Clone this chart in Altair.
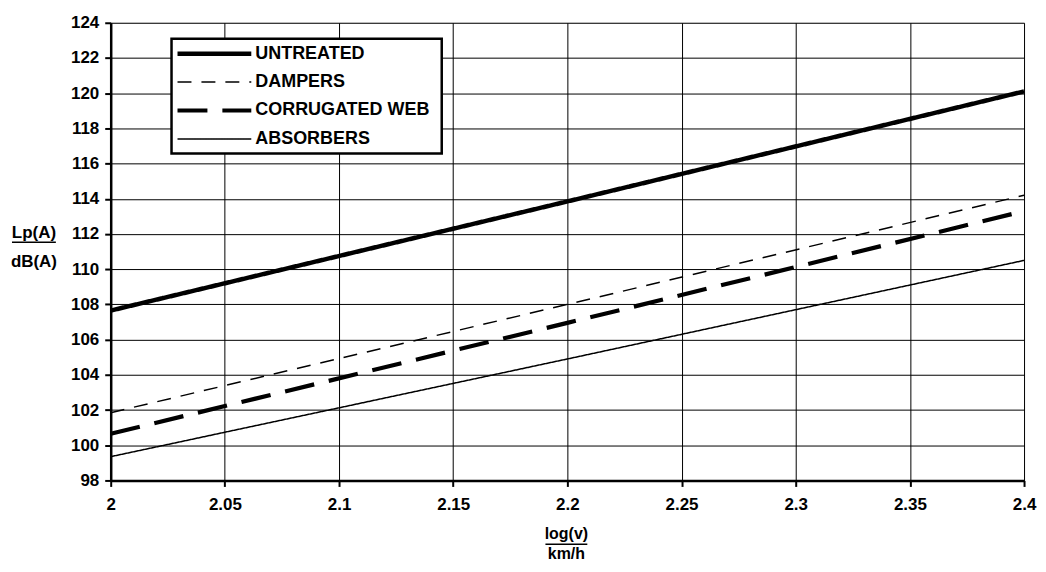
import altair as alt
import pandas as pd

# ---- data ----
series = ["UNTREATED", "DAMPERS", "CORRUGATED WEB", "ABSORBERS"]
log_v = [2.0, 2.2, 2.4]
untreated = [107.65, 113.85, 120.1]
dampers = [101.85, 108.0, 114.2]
corrugated = [100.65, 106.95, 113.3]
absorbers = [99.35, 104.9, 110.5]

x_ticks = [2, 2.05, 2.1, 2.15, 2.2, 2.25, 2.3, 2.35, 2.4]
y_ticks = list(range(98, 125, 2))

rows = []
for name, vals in zip(series, [untreated, dampers, corrugated, absorbers]):
    for xv, yv in zip(log_v, vals):
        rows.append({"series": name, "logv": xv, "lp": yv})
df = pd.DataFrame(rows)
leg = pd.DataFrame({"series": series, "i": list(range(len(series)))})
one = pd.DataFrame({"k": [0]})

W, H = 916, 459
FONT = "Liberation Sans"

# line styles expressed as Vega expressions keyed on the series name
SW_EXPR = ("datum.series == 'UNTREATED' ? 4.5 : datum.series == 'CORRUGATED WEB' ? 4.2 : 1.5")
DASH_EXPR = ("datum.series == 'DAMPERS' ? [14, 10] : datum.series == 'CORRUGATED WEB' ? [30, 15] : [1, 0]")

lines = alt.Chart(df).transform_calculate(sw=SW_EXPR, dash=DASH_EXPR).mark_line(
    color="black", clip=True
).encode(
    x=alt.X("logv:Q", scale=alt.Scale(domain=[2, 2.4], nice=False),
            axis=alt.Axis(values=x_ticks, labelExpr="datum.value + ''", title=None,
                          grid=True, gridColor="black", gridWidth=1, gridOpacity=1,
                          domainColor="black", domainWidth=2.5, tickColor="black",
                          tickSize=6, tickWidth=2, labelFont=FONT, labelFontSize=17,
                          labelFontWeight="bold", labelColor="black", labelPadding=10,
                          labelFlush=False)),
    y=alt.Y("lp:Q", scale=alt.Scale(domain=[98, 124], nice=False, zero=False),
            axis=alt.Axis(values=y_ticks, title=None, grid=True, gridColor="black",
                          gridWidth=1, gridOpacity=1, domainColor="black", domainWidth=2.5,
                          tickColor="black", tickSize=6, tickWidth=2, labelFont=FONT,
                          labelFontSize=17, labelFontWeight="bold", labelColor="black",
                          labelPadding=6, labelFlush=False)),
    detail="series:N",
    strokeWidth=alt.StrokeWidth("sw:Q", scale=None, legend=None),
    strokeDash=alt.StrokeDash("dash:N", scale=None, legend=None),
)

# ---- legend box ----
box = alt.Chart(one).mark_rect(fill="white", stroke="black", strokeWidth=2.5).encode(
    x=alt.value(61), x2=alt.value(332), y=alt.value(16), y2=alt.value(131)
)
leg_lines = alt.Chart(leg).transform_calculate(
    sw=SW_EXPR, dash=DASH_EXPR, ly="31 + 28.5*datum.i"
).mark_rule(color="black").encode(
    x=alt.value(67), x2=alt.value(141),
    y=alt.Y("ly:Q", scale=None),
    strokeWidth=alt.StrokeWidth("sw:Q", scale=None, legend=None),
    strokeDash=alt.StrokeDash("dash:N", scale=None, legend=None),
)
leg_text = alt.Chart(leg).transform_calculate(ly="31 + 28.5*datum.i").mark_text(
    align="left", baseline="middle", font=FONT, fontSize=18, fontWeight="bold", color="black"
).encode(x=alt.value(145), y=alt.Y("ly:Q", scale=None), text="series:N")

# ---- axis titles ----
def title_text(txt, x, y, size):
    return alt.Chart(one).mark_text(
        align="center", baseline="middle", font=FONT, fontSize=size, fontWeight="bold", color="black"
    ).encode(x=alt.value(x), y=alt.value(y), text=alt.value(txt))

def underline(x1, x2, y):
    return alt.Chart(one).mark_rule(color="black", strokeWidth=1.5).encode(
        x=alt.value(x1), x2=alt.value(x2), y=alt.value(y)
    )

titles = [
    title_text("Lp(A)", -77, 211, 17), underline(-99, -55, 220),
    title_text("dB(A)", -77, 240, 17),
    title_text("log(v)", 457, 513, 16), underline(436, 478, 523),
    title_text("km/h", 457, 533, 16),
]

chart = alt.layer(lines, box, leg_lines, leg_text, *titles).properties(
    width=W, height=H,
    autosize=alt.AutoSizeParams(type="none"),
    padding={"left": 103, "top": 14, "right": 14, "bottom": 83},
).configure_view(stroke="black", strokeWidth=1.5).configure(background="white")

chart.save("out.html", embed_options={"renderer": "svg", "actions": False})
